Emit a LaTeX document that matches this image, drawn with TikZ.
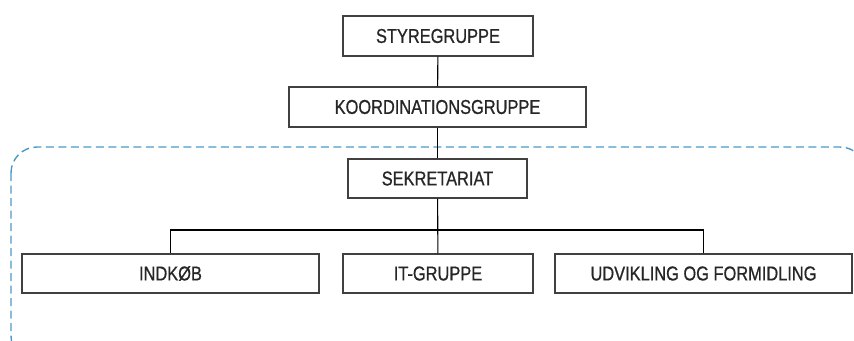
\documentclass[tikz,border=0pt]{standalone}
\usepackage{fontspec}
\setmainfont{Liberation Sans}[FakeStretch=0.82,FakeBold=0.7]
\begin{document}
\begin{tikzpicture}[x=1pt,y=-1pt,
  box/.style={draw=black!75,line width=1.3pt,fill=white,inner sep=0pt,font=\fontsize{20}{24}\selectfont,text=black!85},
  conn/.style={draw=black,line width=1.1pt}]
\useasboundingbox (0,0) rectangle (854,340);
\begin{scope}
\clip (0,0) rectangle (854,340);
\draw[color={rgb,255:red,74;green,154;blue,200},line width=1.4pt,dash pattern=on 8pt off 4.5pt,rounded corners=26pt] (11,147) rectangle (866,362);
\end{scope}
\node[box,minimum width=190pt,minimum height=40pt] (sty) at (438,36) {STYREGRUPPE};
\node[box,minimum width=297pt,minimum height=40pt] (koo) at (437.5,107) {KOORDINATIONSGRUPPE};
\node[box,minimum width=179pt,minimum height=39pt] (sek) at (437.5,178.5) {SEKRETARIAT};
\node[box,minimum width=297pt,minimum height=39pt] (ind) at (170.5,273.5) {INDKØB};
\node[box,minimum width=190pt,minimum height=39pt] (itg) at (438,273.5) {IT-GRUPPE};
\node[box,minimum width=297pt,minimum height=39pt] (udv) at (703.5,273.5) {UDVIKLING OG FORMIDLING};
\coordinate (bus) at (437,230);
\draw[conn] (sty) -- (koo);
\draw[conn] (koo) -- (sek);
\draw[conn] (sek) -- (itg);
\draw[conn] (ind.north) |- (bus) -| (udv.north);
\end{tikzpicture}
\end{document}
